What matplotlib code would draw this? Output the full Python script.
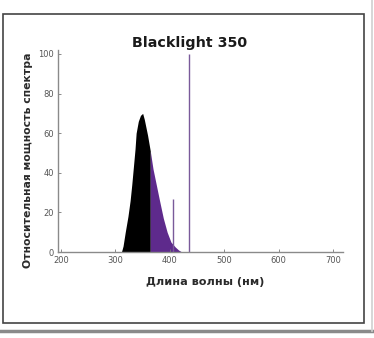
import matplotlib
matplotlib.use("Agg")
import matplotlib.pyplot as plt
from matplotlib.patches import Rectangle
from matplotlib.lines import Line2D
import numpy as np

title = "Blacklight 350"
xlabel = "Длина волны (нм)"
ylabel = "Относительная мощность спектра"
xticks = [200, 300, 400, 500, 600, 700]
yticks = [0, 20, 40, 60, 80, 100]

wavelength = [311, 314, 318, 323, 327, 330, 333, 336, 338, 342, 346, 350, 353, 356, 359,
              364, 369, 375, 381, 388, 395, 402, 410, 416, 422]
power = [0, 3, 10, 18, 26, 34, 43, 52, 60, 66, 69, 70, 67, 63, 59,
         51, 42, 34, 26, 17, 10, 5, 2.5, 1, 0]
split_nm = 364
lines_nm = [405, 436]
lines_pow = [27, 100]

fig = plt.figure(figsize=(3.74, 3.38), dpi=100)
W, H = 374, 338

# outer frame
fig.add_artist(Rectangle((3 / W, 1 - 323 / H), 361 / W, 309 / H, transform=fig.transFigure,
                         fill=False, edgecolor="#444444", linewidth=1.2))
fig.add_artist(Line2D([0, 372 / W], [1 - 331 / H, 1 - 331 / H], transform=fig.transFigure,
                      color="#8a8a8a", linewidth=2.5))
fig.add_artist(Line2D([372 / W, 372 / W], [1 - 331 / H, 1], transform=fig.transFigure,
                      color="#d0d0d0", linewidth=1.2))

ax = fig.add_axes([58 / W, 1 - 252 / H, (343 - 58) / W, (252 - 50) / H])
x = np.array(wavelength, dtype=float)
y = np.array(power, dtype=float)
ax.fill_between(x, 0, y, where=x <= split_nm, color="black", linewidth=0)
ax.fill_between(x, 0, y, where=x >= split_nm, color="#5e2a8c", linewidth=0)
for lx, lp in zip(lines_nm, lines_pow):
    ax.vlines(lx, 0, lp, color="#7a5a9a", linewidth=1.0)

ax.set_xlim(194.5, 718)
ax.set_ylim(0, 102)
ax.set_xticks(xticks)
ax.set_yticks(yticks)
ax.set_xticklabels([str(t) for t in xticks])
ax.set_yticklabels([str(t) for t in yticks])
ax.tick_params(axis="both", labelsize=6, colors="#777777", length=2, width=0.6,
               direction="in", pad=3)
ax.tick_params(axis="x", labelcolor="#555555")
ax.tick_params(axis="y", labelcolor="#555555")
for s in ["top", "right"]:
    ax.spines[s].set_visible(False)
for s in ["left", "bottom"]:
    ax.spines[s].set_color("#8a8a8a")
    ax.spines[s].set_linewidth(1.0)

fig.text(190 / W, 1 - 43 / H, title, ha="center", va="center", fontsize=10.3,
         fontweight="bold", color="#1a1a1a")
fig.text(205 / W, 1 - 282 / H, xlabel, ha="center", va="center", fontsize=8.1,
         fontweight="bold", color="#2a2a2a")
fig.text(28 / W, 1 - 160 / H, ylabel, ha="center", va="center", fontsize=7.8,
         fontweight="bold", color="#2a2a2a", rotation=90)

fig.savefig("out.png", dpi=100, facecolor="white")
